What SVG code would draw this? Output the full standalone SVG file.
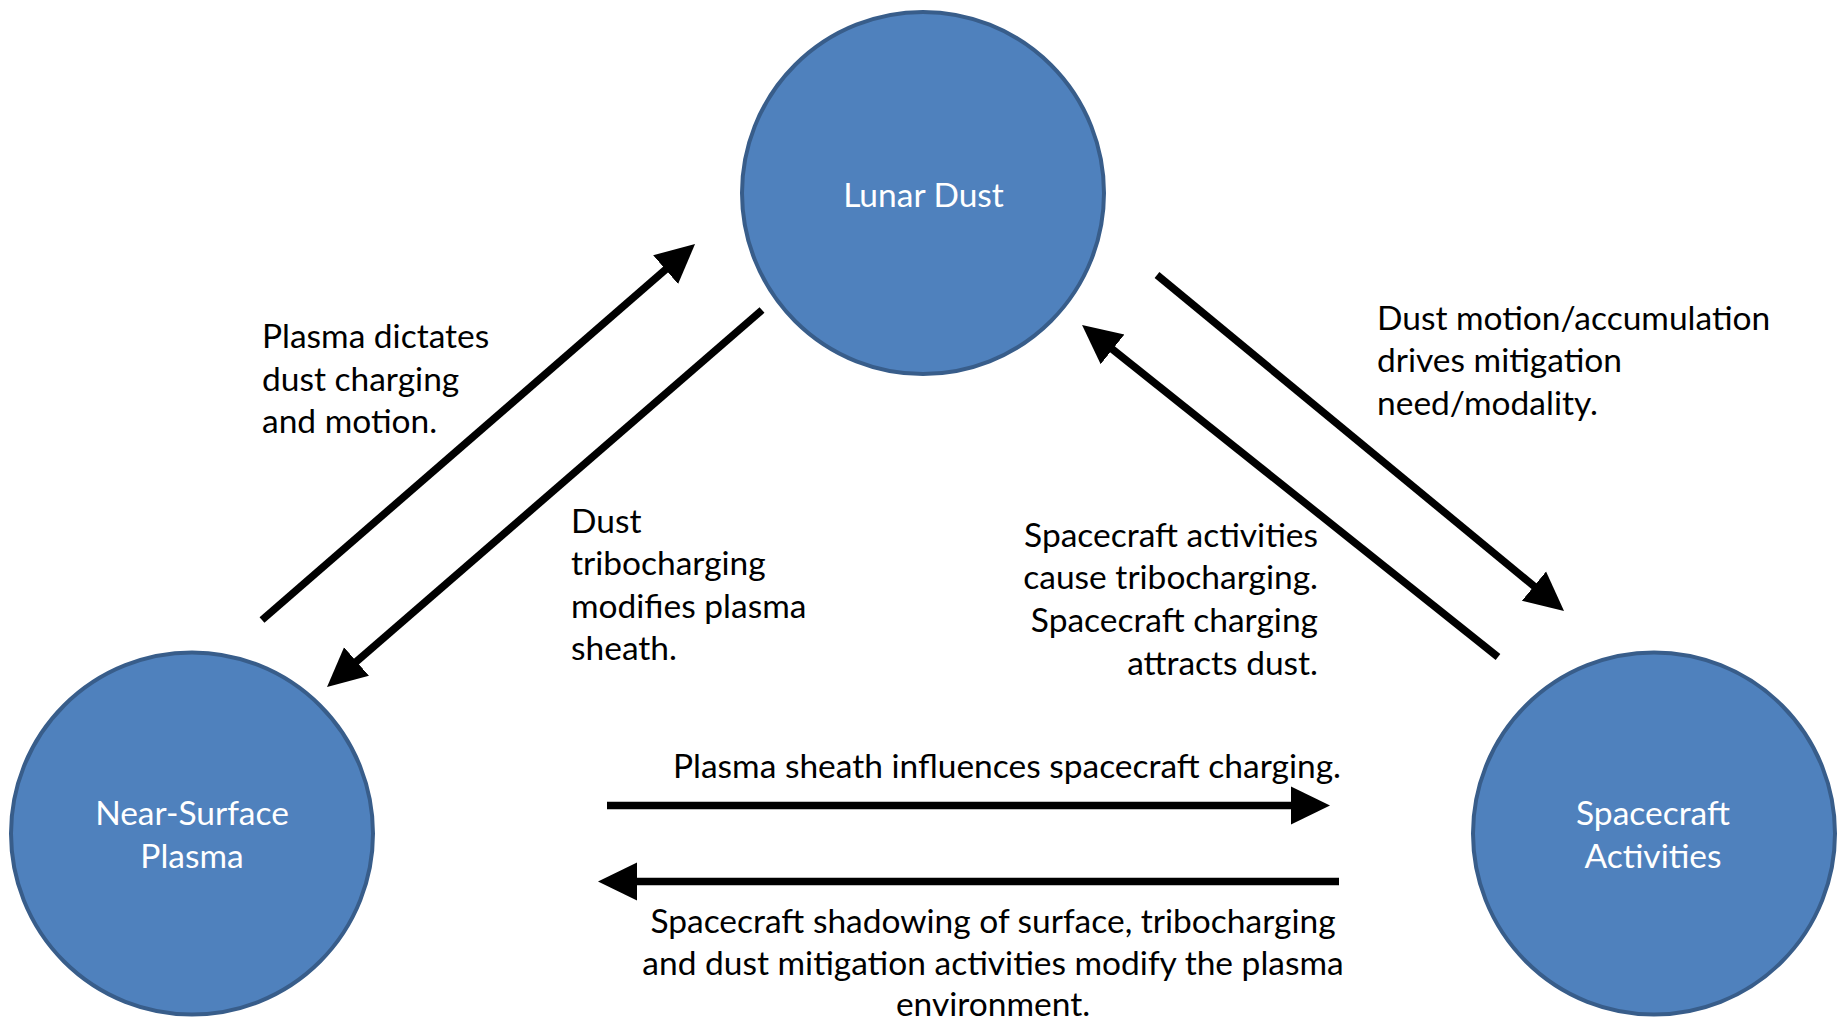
<svg xmlns="http://www.w3.org/2000/svg" width="1841" height="1022" viewBox="0 0 1841 1022">
<style>
.node{fill:#4F81BD;stroke:#385D8A;stroke-width:4}
.nl{font-family:Lato,"Open Sans","Liberation Sans",sans-serif;font-size:33.5px;fill:#FFFFFF;text-anchor:middle}
.lbl{font-family:Lato,"Open Sans","Liberation Sans",sans-serif;font-size:33.5px;fill:#000000}
.edge{stroke:#000000;stroke-width:7.5;fill:none;marker-end:url(#ah)}
</style>
<defs>
<marker id="ah" markerUnits="userSpaceOnUse" viewBox="0 -20 40 40" markerWidth="40" markerHeight="40" refX="9" refY="0" orient="auto">
<path d="M0,-19 L39,0 L0,19 z" fill="#000000"/>
</marker>
</defs>
<rect width="1841" height="1022" fill="#FFFFFF"/>
<g id="connectors">
<line class="edge" x1="262" y1="620" x2="672.4" y2="263.7"/>
<line class="edge" x1="762" y1="310" x2="349.7" y2="667.4"/>
<line class="edge" x1="1157" y1="275" x2="1540.9" y2="591.9"/>
<line class="edge" x1="1498" y1="657" x2="1105.5" y2="343.7"/>
<line class="edge" x1="607" y1="805.5" x2="1300" y2="805.5"/>
<line class="edge" x1="1339" y1="881.5" x2="628" y2="881.5"/>
</g>
<g id="node-lunar-dust">
<circle class="node" cx="923" cy="193" r="181"/>
<text class="nl" x="923.5" y="207">Lunar Dust</text>
</g>
<g id="node-near-surface-plasma">
<circle class="node" cx="192" cy="833.5" r="181"/>
<text class="nl" x="192" y="825">Near-Surface</text>
<text class="nl" x="192" y="868">Plasma</text>
</g>
<g id="node-spacecraft-activities">
<circle class="node" cx="1654" cy="833.5" r="181"/>
<text class="nl" x="1653" y="825">Spacecraft</text>
<text class="nl" x="1653" y="868">Activities</text>
</g>
<g id="labels">
<text class="lbl" x="262" y="348">Plasma dictates</text>
<text class="lbl" x="262" y="391">dust charging</text>
<text class="lbl" x="262" y="433">and motion.</text>
<text class="lbl" x="571" y="533">Dust</text>
<text class="lbl" x="571" y="575">tribocharging</text>
<text class="lbl" x="571" y="618">modifies plasma</text>
<text class="lbl" x="571" y="660">sheath.</text>
<text class="lbl" x="1377" y="330">Dust motion/accumulation</text>
<text class="lbl" x="1377" y="372">drives mitigation</text>
<text class="lbl" x="1377" y="415">need/modality.</text>
<text class="lbl" x="1318" y="547" text-anchor="end">Spacecraft activities</text>
<text class="lbl" x="1318" y="589" text-anchor="end">cause tribocharging.</text>
<text class="lbl" x="1318" y="632" text-anchor="end">Spacecraft charging</text>
<text class="lbl" x="1318" y="675" text-anchor="end">attracts dust.</text>
<text class="lbl" x="1341" y="778" text-anchor="end">Plasma sheath influences spacecraft charging.</text>
<text class="lbl" x="993" y="933" text-anchor="middle">Spacecraft shadowing of surface, tribocharging</text>
<text class="lbl" x="993" y="975" text-anchor="middle">and dust mitigation activities modify the plasma</text>
<text class="lbl" x="993" y="1016" text-anchor="middle">environment.</text>
</g>
</svg>
